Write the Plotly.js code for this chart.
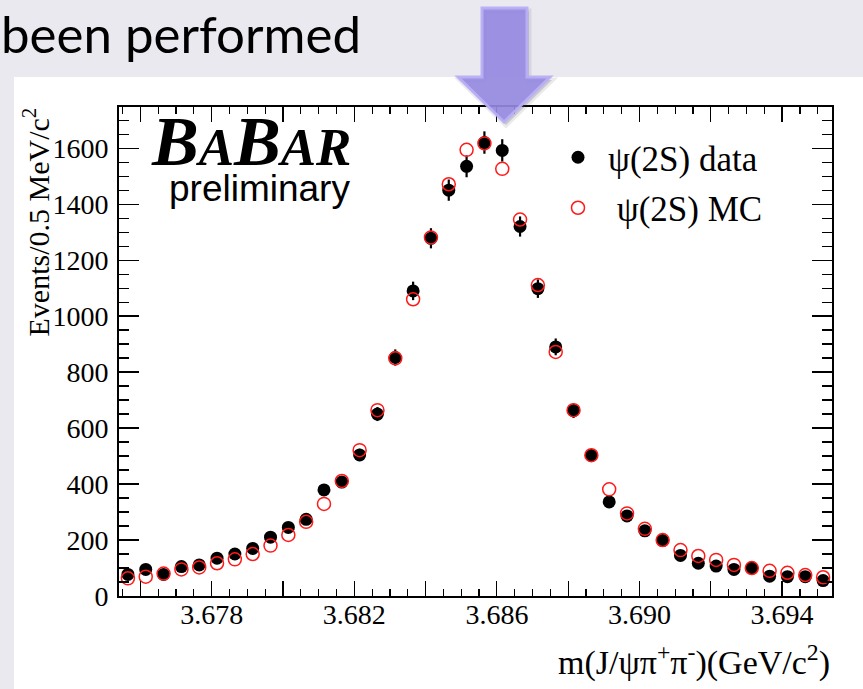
<!DOCTYPE html>
<html>
<head>
<meta charset="utf-8">
<script src="https://cdn.plot.ly/plotly-3.0.1.min.js"></script>
<style>
  html, body { margin: 0; padding: 0; background: #e9e8ee; }
  #chart { width: 863px; height: 689px; }
</style>
</head>
<body>
<div id="chart"></div>
<script>
// J/psi pi+ pi- invariant mass, 0.5 MeV bins
const massBins = [
  3.67565, 3.67615, 3.67665, 3.67715, 3.67765, 3.67815, 3.67865, 3.67915, 3.67965, 3.68015,
  3.68065, 3.68115, 3.68165, 3.68215, 3.68265, 3.68315, 3.68365, 3.68415, 3.68465, 3.68515,
  3.68565, 3.68615, 3.68665, 3.68715, 3.68765, 3.68815, 3.68865, 3.68915, 3.68965, 3.69015,
  3.69065, 3.69115, 3.69165, 3.69215, 3.69265, 3.69315, 3.69365, 3.69415, 3.69465, 3.69515
];

// psi(2S) data: events per bin and statistical errors
const dataCounts = [
  77, 95, 77, 105, 111, 135, 150, 170, 210, 245,
  274, 379, 407, 504, 650, 852, 1090, 1278, 1450, 1535,
  1620, 1592, 1320, 1098, 890, 662, 502, 336, 286, 233,
  198, 145, 117, 107, 95, 100, 71, 69, 69, 55
];
const dataErrors = [
  9, 10, 9, 10, 11, 12, 12, 13, 14, 16,
  17, 19, 20, 22, 25, 29, 33, 36, 38, 39,
  40, 40, 36, 33, 30, 26, 22, 18, 17, 15,
  14, 12, 11, 10, 10, 10, 8, 8, 8, 7
];

// psi(2S) Monte Carlo, normalised
const mcCounts = [
  63, 69, 80, 95, 102, 117, 131, 150, 180, 218,
  265, 329, 411, 521, 664, 849, 1060, 1281, 1471, 1594,
  1617, 1526, 1345, 1111, 872, 664, 503, 381, 295, 240,
  200, 164, 143, 129, 111, 100, 90, 83, 75, 67
];

// x-axis: ticks every 2 MeV, labels every 4 MeV
const xTickVals = [3.676, 3.678, 3.680, 3.682, 3.684, 3.686, 3.688, 3.690, 3.692, 3.694];
const xTickText = ['', '3.678', '', '3.682', '', '3.686', '', '3.690', '', '3.694'];

const seriesNames = ['\u03c8(2S) data', '\u00a0\u03c8(2S) MC'];

// frame geometry (pixels)
const W = 863, H = 689;
const M = { l: 119, r: 31, t: 107, b: 93 };
const PW = W - M.l - M.r, PH = H - M.t - M.b;
const px = p => (p - M.l) / PW;
const py = p => (H - M.b - p) / PH;

const serif = 'Liberation Serif, Times New Roman, serif';

const traces = [
  {
    x: massBins, y: dataCounts, type: 'scatter', mode: 'markers',
    name: seriesNames[0], legendgroup: 'a',
    marker: { color: '#000', size: 13, symbol: 'circle' },
    error_y: { type: 'data', array: dataErrors, visible: true, color: '#000', thickness: 2.2, width: 0 },
    cliponaxis: false
  },
  {
    x: massBins, y: mcCounts, type: 'scatter', mode: 'markers',
    name: seriesNames[1], legendgroup: 'b',
    marker: { color: '#ff1a1a', size: 13, symbol: 'circle-open', line: { width: 1.5 } },
    cliponaxis: false
  }
];

// down arrow outline (pixels)
const arrowPts = [[482, 8], [527, 8], [527, 77], [550, 77], [504, 122], [458, 77], [482, 77]];
const pathOf = (pts, dx, dy) =>
  pts.map((p, i) => (i ? 'L' : 'M') + px(p[0] + dx).toFixed(4) + ',' + py(p[1] + dy).toFixed(4)).join(' ') + ' Z';

const layout = {
  width: W, height: H,
  margin: M,
  paper_bgcolor: '#eae9ef',
  plot_bgcolor: '#ffffff',
  showlegend: true,
  legend: {
    x: px(548), y: py(128), xanchor: 'left', yanchor: 'top',
    bgcolor: 'rgba(0,0,0,0)', borderwidth: 0,
    font: { family: serif, size: 35, color: '#000' },
    itemwidth: 50, tracegroupgap: 2, traceorder: 'grouped',
    itemclick: false
  },
  xaxis: {
    range: [3.6754, 3.6954],
    tickmode: 'array', tickvals: xTickVals, ticktext: xTickText,
    ticks: 'inside', ticklen: 15, tickwidth: 1.2, tickcolor: '#000',
    minor: { dtick: 0.0005, tick0: 3.676, ticks: 'inside', ticklen: 7, tickwidth: 1.2, tickcolor: '#000' },
    showline: true, linecolor: '#000', linewidth: 2, mirror: 'ticks',
    showgrid: false, zeroline: false,
    tickfont: { family: serif, size: 28, color: '#000' },
    ticklabelstandoff: -8
  },
  yaxis: {
    range: [0, 1747],
    tickmode: 'linear', tick0: 0, dtick: 200,
    ticks: 'inside', ticklen: 20, tickwidth: 1.2, tickcolor: '#000',
    minor: { dtick: 50, tick0: 0, ticks: 'inside', ticklen: 10, tickwidth: 1.2, tickcolor: '#000' },
    showline: true, linecolor: '#000', linewidth: 2, mirror: 'ticks',
    showgrid: false, zeroline: false,
    tickfont: { family: serif, size: 28, color: '#000' },
    ticklabelstandoff: 3
  },
  shapes: [
    // white slide panel behind the plot
    { type: 'rect', xref: 'paper', yref: 'paper', layer: 'below',
      x0: px(14), x1: px(W + 5), y0: py(H + 5), y1: py(77),
      fillcolor: '#ffffff', line: { width: 0 } },
    // arrow shadow
    { type: 'path', xref: 'paper', yref: 'paper', layer: 'above',
      path: pathOf(arrowPts, 2, 3),
      fillcolor: 'rgba(80,80,100,0.22)', line: { color: 'rgba(80,80,100,0.12)', width: 5 } },
    // arrow
    { type: 'path', xref: 'paper', yref: 'paper', layer: 'above',
      path: pathOf(arrowPts, 0, 0),
      fillcolor: 'rgba(150,138,226,0.9)', line: { color: 'rgba(184,175,244,0.95)', width: 3 } }
  ],
  annotations: [
    { text: 'been performed', xref: 'paper', yref: 'paper',
      x: px(-1), y: py(34), xanchor: 'left', yanchor: 'middle', showarrow: false,
      font: { family: 'Lato, Open Sans, sans-serif', size: 51, color: '#000' } },
    { text: '<b><i>B<span style="font-size:53px">A</span>B<span style="font-size:53px">AR</span></i></b>',
      xref: 'paper', yref: 'paper', x: px(149), y: py(141), xanchor: 'left', yanchor: 'middle',
      showarrow: false, font: { family: serif, size: 70, color: '#000' } },
    { text: 'preliminary', xref: 'paper', yref: 'paper',
      x: px(167), y: py(188), xanchor: 'left', yanchor: 'middle', showarrow: false,
      font: { family: 'Liberation Sans, Arial, sans-serif', size: 37, color: '#000' } },
    { text: 'Events/0.5 MeV/c<sup>2</sup>', xref: 'paper', yref: 'paper',
      x: px(37), y: py(106), xanchor: 'center', yanchor: 'top', textangle: -90, showarrow: false,
      font: { family: serif, size: 30, color: '#000' } },
    { text: 'm(J/\u03c8\u03c0<sup>+</sup>\u03c0<sup>-</sup>)(GeV/c<sup>2</sup>)', xref: 'paper', yref: 'paper',
      x: 1, y: py(660), xanchor: 'right', yanchor: 'middle', showarrow: false,
      font: { family: serif, size: 34, color: '#000' } }
  ]
};

Plotly.newPlot('chart', traces, layout, { staticPlot: true, displayModeBar: false });
</script>
</body>
</html>
